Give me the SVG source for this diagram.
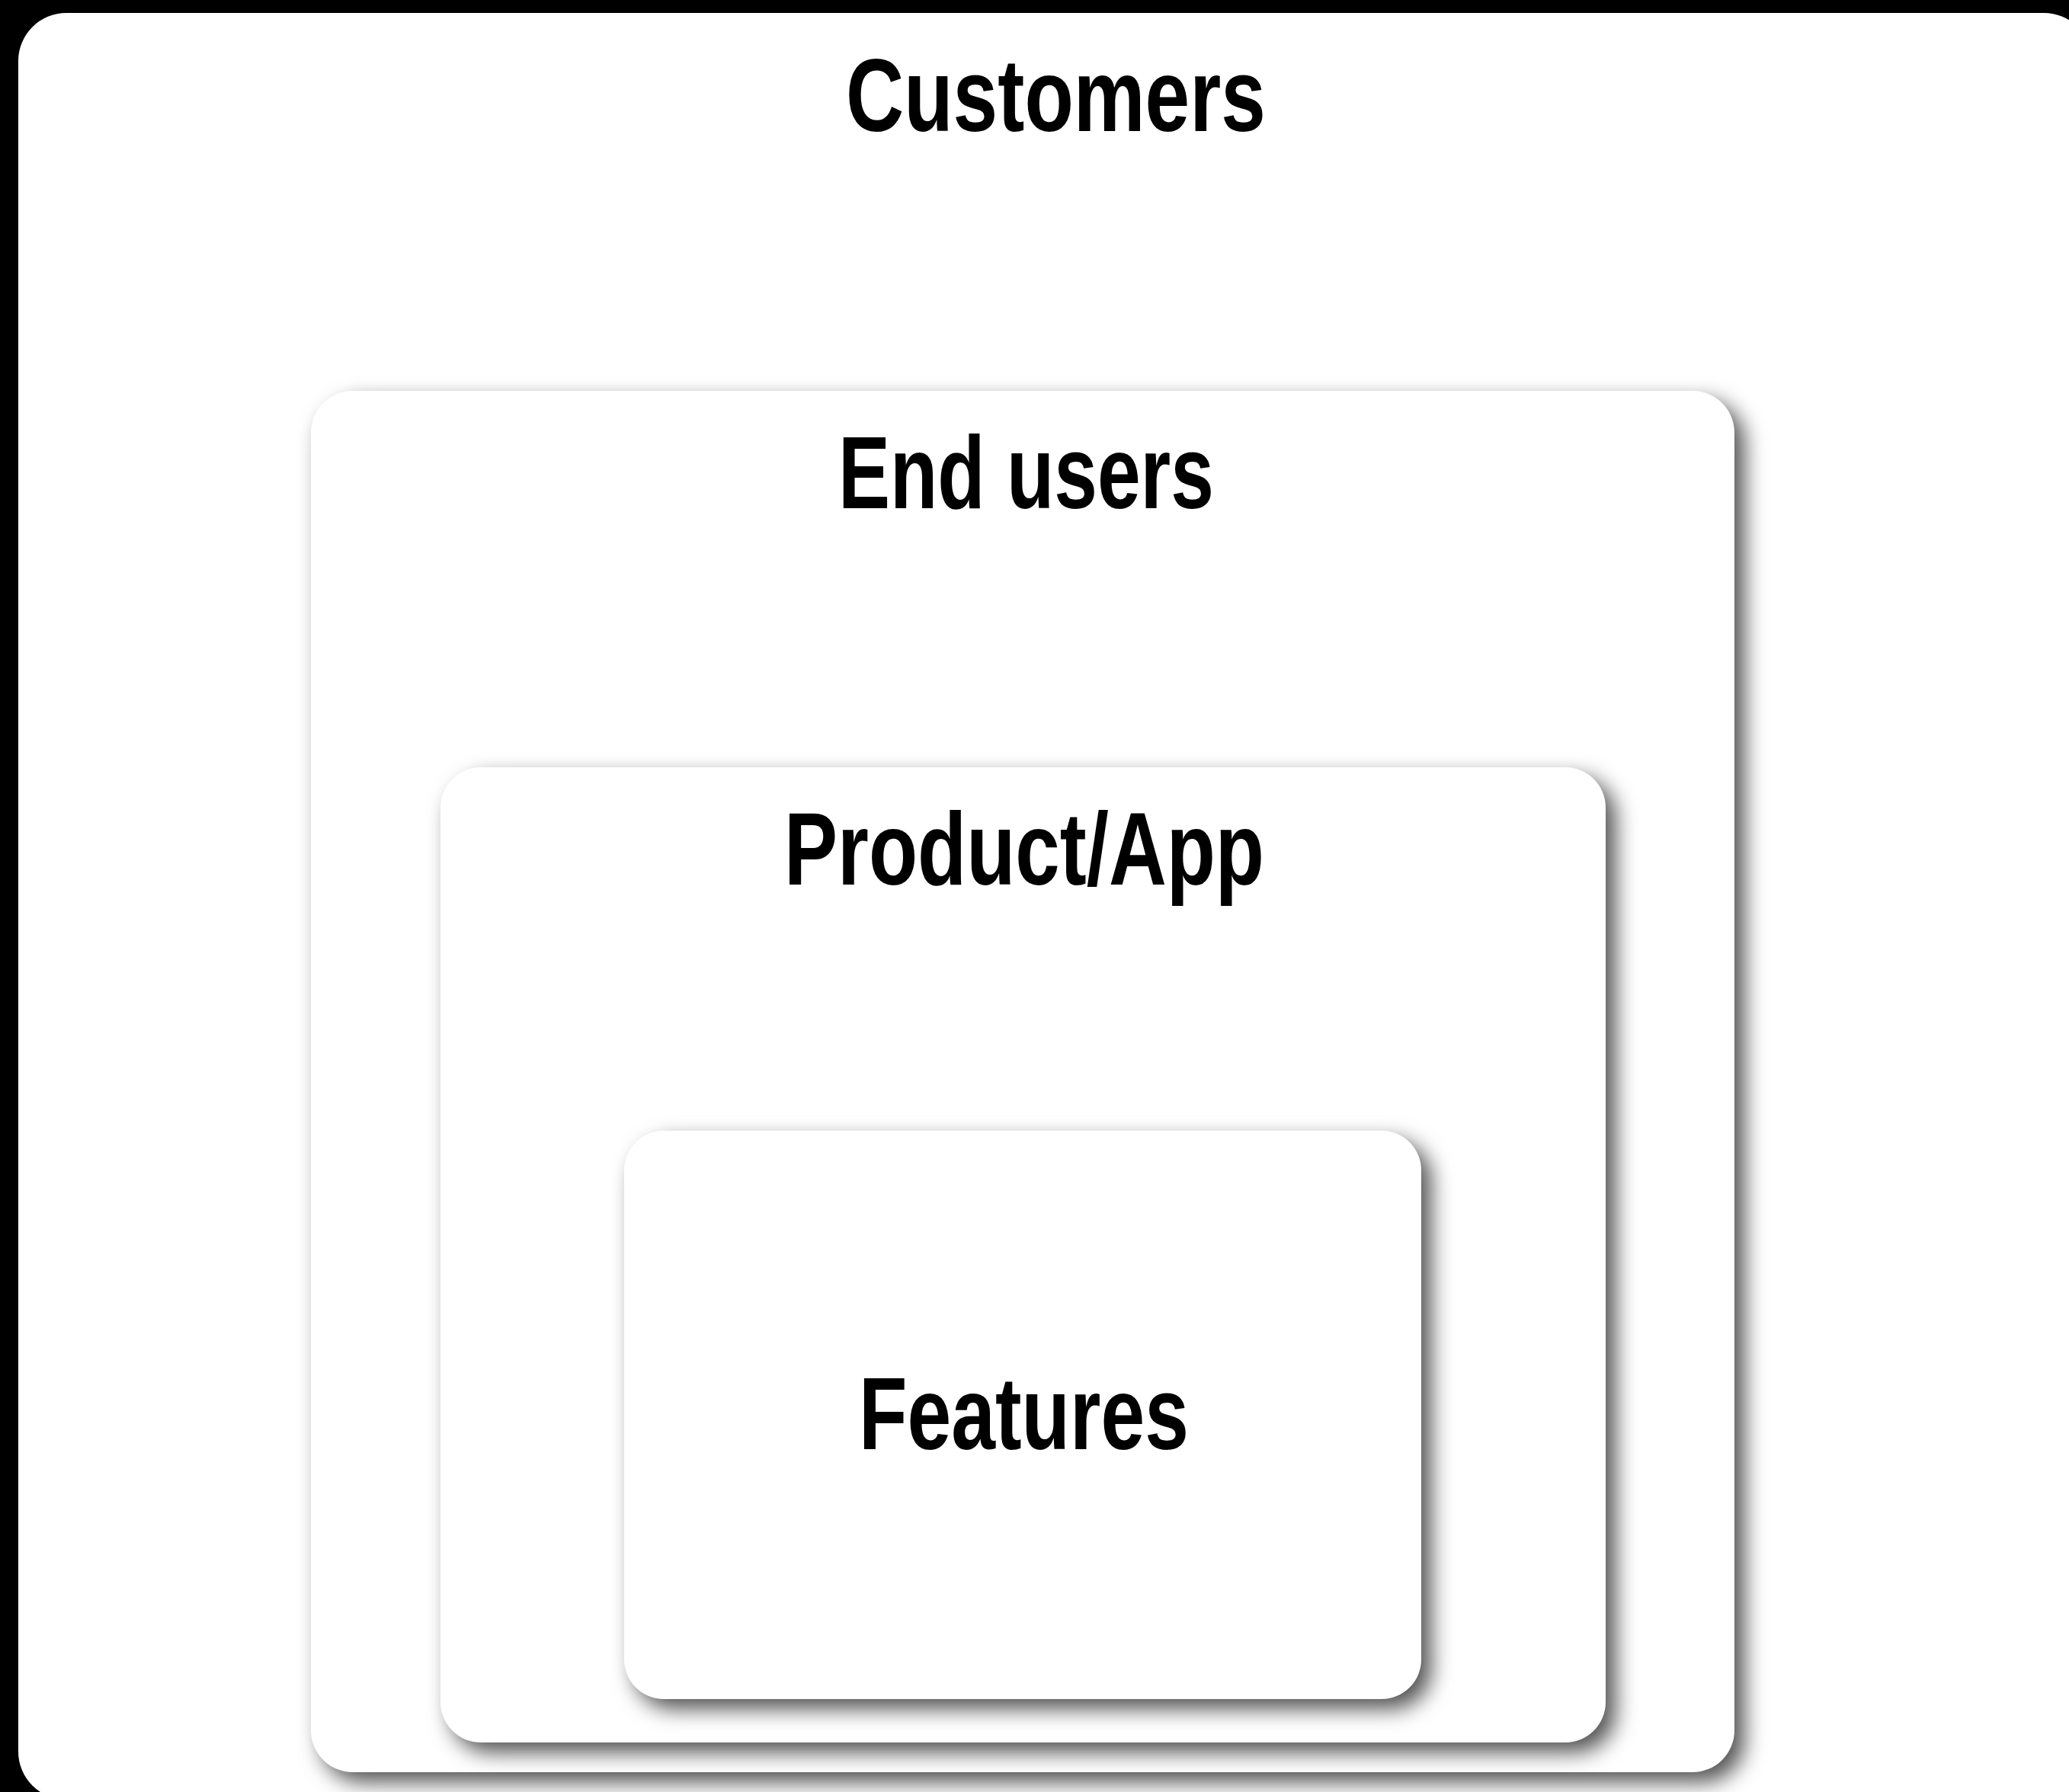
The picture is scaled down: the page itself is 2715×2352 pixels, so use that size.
<svg xmlns="http://www.w3.org/2000/svg" width="2715" height="2352" viewBox="0 0 2715 2352">
  <defs>
    <filter id="shadow" x="-10%" y="-10%" width="120%" height="120%" color-interpolation-filters="sRGB">
      <feGaussianBlur in="SourceAlpha" stdDeviation="14"/>
      <feOffset dx="13" dy="13" result="blur"/>
      <feFlood flood-color="#000000" flood-opacity="0.68"/>
      <feComposite in2="blur" operator="in" result="sh"/>
      <feMerge>
        <feMergeNode in="sh"/>
        <feMergeNode in="SourceGraphic"/>
      </feMerge>
    </filter>
    <style>
      .box { fill: #ffffff; }
      .inner { filter: url(#shadow); }
      .label { font-family: "Liberation Sans Narrow", "Liberation Sans", "DejaVu Sans Condensed", sans-serif; font-weight: bold; font-size: 136px; fill: #000000; }
    </style>
  </defs>
  <rect x="0" y="0" width="2715" height="2352" fill="#000000"/>
  <g id="customers">
    <rect class="box" x="24" y="17" width="2721" height="2345" rx="63" ry="63"/>
    <text class="label" x="1110" y="172" textLength="551" lengthAdjust="spacingAndGlyphs">Customers</text>
  </g>
  <g id="end-users">
    <rect class="box inner" x="408" y="513" width="1868" height="1813" rx="55" ry="55"/>
    <text class="label" x="1100" y="667" textLength="493" lengthAdjust="spacingAndGlyphs">End users</text>
  </g>
  <g id="product-app">
    <rect class="box inner" x="578" y="1007" width="1529" height="1280" rx="53" ry="53"/>
    <text class="label" x="1029" y="1161" textLength="630" lengthAdjust="spacingAndGlyphs">Product/App</text>
  </g>
  <g id="features">
    <rect class="box inner" x="819" y="1484" width="1046" height="746" rx="52" ry="52"/>
    <text class="label" x="1127" y="1902" textLength="433" lengthAdjust="spacingAndGlyphs">Features</text>
  </g>
  <g id="connectors"/>
</svg>
